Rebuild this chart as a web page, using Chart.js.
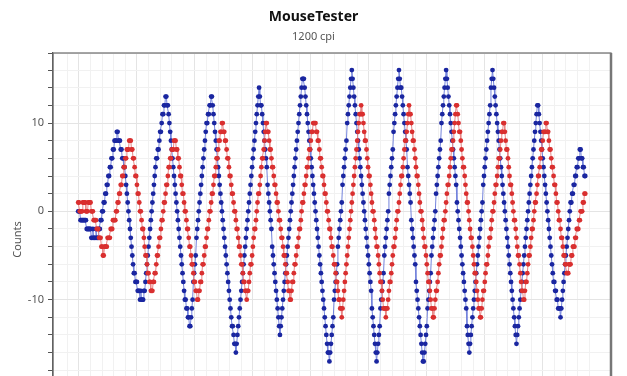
<!DOCTYPE html>
<html>
<head>
<meta charset="utf-8">
<script src="https://cdn.jsdelivr.net/npm/chart.js@4.4.0/dist/chart.umd.min.js"></script>
<style>
  html, body { margin: 0; padding: 0; background: #fff; overflow: hidden; }
  canvas { display: block; }
</style>
</head>
<body>
<canvas id="mouseChart" width="627" height="456"></canvas>
<script>
// MouseTester capture at 1200 cpi, one value per poll
const chartTitle = "MouseTester";
const chartSubtitle = "1200 cpi";
const yAxisTitle = "Counts";
const yTickLabels = [10, 0, -10];

// x counts (blue)
const xCounts = [
  0,0,0,-1,-1,-1,-1,-1,-1,-1,-1,-2,-2,-2,-2,-2,-2,-3,-3,-2,-3,-3,-3,-2,-3,-3,-3,-2,-2,-1,-1,0,0,1,1,2,2,3,3,4,4,5,5,6,6,7,7,8,8,8,
  9,9,8,8,8,7,7,6,6,5,5,4,3,2,1,0,-1,-2,-3,-4,-5,-6,-7,-7,-8,-8,-8,-9,-9,-9,-10,-9,-10,
  -10,-10,-9,-9,-8,-7,-6,-5,-4,-3,-2,-1,0,1,2,3,4,5,6,6,7,7,8,9,9,10,11,11,12,12,13,
  13,12,12,11,10,9,8,7,6,5,4,3,2,1,0,-1,-2,-3,-4,-5,-6,-7,-8,-9,-10,-10,-11,-11,-12,-12,
  -13,-13,-12,-11,-10,-8,-7,-6,-5,-3,-2,-1,0,1,2,3,4,5,6,7,8,9,10,10,11,11,12,12,
  13,13,12,11,10,9,8,7,6,5,4,3,2,1,0,-1,-2,-3,-4,-5,-6,-7,-8,-9,-10,-11,-12,-13,-13,-14,-15,-15,
  -16,-15,-14,-13,-12,-11,-10,-9,-8,-7,-6,-5,-4,-3,-2,-1,0,1,2,3,4,5,6,7,8,9,10,11,12,13,
  14,13,12,12,11,10,9,8,7,6,5,3,2,1,0,-1,-2,-4,-5,-6,-7,-8,-9,-10,-11,-12,-13,
  -14,-13,-12,-11,-10,-9,-8,-7,-6,-5,-4,-3,-2,-1,0,1,2,3,4,5,6,7,8,9,10,11,12,13,14,15,
  15,15,14,13,12,11,10,9,8,7,6,5,4,3,2,1,0,-1,-2,-3,-4,-5,-6,-7,-8,-9,-10,-11,-12,-13,-14,-15,-16,-16,
  -17,-16,-15,-14,-13,-12,-10,-9,-8,-7,-6,-4,-3,-2,-1,0,1,3,4,5,6,7,8,10,11,12,13,14,15,
  16,15,14,13,12,11,10,9,8,7,6,5,4,3,2,1,0,-1,-2,-3,-4,-5,-6,-7,-8,-9,-11,-12,-13,-14,-15,-16,
  -17,-16,-15,-14,-13,-11,-10,-9,-8,-7,-5,-4,-3,-2,-1,0,2,3,4,5,6,7,9,10,11,12,13,14,15,
  16,15,14,14,13,12,11,10,9,8,7,5,4,3,2,1,-1,-2,-3,-4,-5,-6,-8,-9,-10,-11,-12,-13,-14,-15,-16,
  -17,-17,-16,-15,-14,-13,-11,-10,-9,-8,-7,-5,-4,-3,-2,-1,0,2,3,4,5,6,7,8,10,11,12,13,14,15,
  16,15,14,13,12,11,10,9,8,7,6,5,4,3,1,0,-1,-2,-3,-4,-5,-6,-7,-8,-9,-10,-11,-13,-14,-15,
  -16,-15,-14,-13,-12,-11,-10,-9,-8,-7,-6,-5,-4,-3,-2,-1,0,1,3,4,5,6,7,8,9,10,11,12,14,15,
  16,15,14,13,12,11,10,9,8,7,6,5,4,3,2,1,0,-1,-2,-3,-4,-5,-6,-7,-8,-9,-10,-11,-12,-13,-14,
  -15,-14,-13,-12,-11,-10,-9,-8,-7,-6,-5,-4,-3,-2,-1,0,1,2,3,4,5,6,7,8,9,10,11,
  12,12,11,10,9,8,7,6,5,4,3,2,1,0,-1,-2,-3,-4,-5,-6,-7,-8,-8,-9,-9,-10,-10,-11,-11,-11,
  -12,-11,-10,-9,-8,-7,-6,-5,-4,-3,-2,-1,0,1,1,2,2,3,3,4,4,5,5,6,6,
  7,7,6,6,5,5,4,4
];

// y counts (red)
const yCounts = [
  1,1,0,0,0,0,1,1,1,1,0,0,0,1,1,1,1,0,0,0,-1,-1,-1,-1,-2,-2,-2,-3,-3,-3,-4,-4,
  -5,-5,-4,-4,-4,-4,-3,-3,-3,-3,-2,-2,-2,-1,-1,-1,-1,0,0,1,1,2,2,3,3,4,4,5,5,6,6,7,7,7,
  8,8,8,7,7,6,6,5,4,4,3,2,2,1,0,0,-1,-2,-2,-3,-4,-5,-5,-6,-7,-7,-8,-8,
  -9,-9,-9,-8,-8,-7,-7,-6,-5,-5,-4,-3,-3,-2,-1,-1,0,1,1,2,3,3,4,5,5,6,6,7,7,7,
  8,8,8,7,7,6,6,5,4,4,3,2,2,1,0,0,-1,-2,-2,-3,-4,-4,-5,-6,-6,-7,-8,-8,-9,-9,
  -10,-10,-9,-9,-8,-8,-7,-6,-6,-5,-4,-4,-3,-2,-2,-1,0,0,1,2,2,3,4,4,5,6,6,7,8,8,9,9,
  10,10,9,9,8,8,7,6,6,5,4,4,3,2,2,1,0,0,-1,-2,-2,-3,-4,-4,-5,-6,-6,-7,-8,-8,-9,-9,
  -10,-9,-9,-8,-7,-6,-6,-5,-4,-3,-2,-2,-1,0,1,2,2,3,4,5,6,6,7,8,9,
  10,10,9,9,8,7,7,6,5,5,4,3,3,2,1,1,0,-1,-1,-2,-3,-3,-4,-5,-5,-6,-7,-7,-8,-9,-9,
  -10,-10,-9,-8,-8,-7,-6,-6,-5,-4,-4,-3,-2,-2,-1,0,1,1,2,3,3,4,5,5,6,7,7,8,9,9,10,
  10,10,10,9,9,8,8,7,6,6,5,4,4,3,2,2,1,0,0,-1,-2,-2,-3,-4,-4,-5,-6,-6,-7,-8,-8,-9,-10,-10,-11,-11,
  -12,-11,-10,-9,-8,-7,-6,-5,-4,-3,-2,-1,0,1,2,3,4,5,6,7,8,9,10,11,11,
  12,11,11,10,9,8,8,7,6,5,4,4,3,2,1,0,0,-1,-2,-3,-4,-4,-5,-6,-7,-8,-8,-9,-10,-11,-11,-11,
  -12,-11,-11,-10,-9,-8,-8,-7,-6,-5,-4,-4,-3,-2,-1,0,0,1,2,3,4,4,5,6,7,8,8,9,10,11,
  12,11,11,10,9,8,8,7,6,5,4,4,3,2,1,0,0,-1,-2,-3,-4,-4,-5,-6,-7,-8,-8,-9,-10,-11,-11,
  -12,-12,-11,-10,-9,-9,-8,-7,-6,-5,-5,-4,-3,-2,-1,-1,0,1,2,3,3,4,5,6,7,7,8,9,10,11,
  12,12,11,10,9,9,8,7,6,5,5,4,3,2,1,1,0,-1,-2,-3,-3,-4,-5,-6,-7,-7,-8,-9,-10,-11,-11,
  -12,-12,-11,-10,-9,-9,-8,-7,-6,-6,-5,-4,-3,-3,-2,-1,0,0,1,2,3,3,4,5,6,6,7,8,9,9,
  10,10,9,8,7,7,6,5,4,3,3,2,1,0,-1,-1,-2,-3,-4,-5,-5,-6,-7,-8,-9,-9,
  -10,-10,-9,-8,-8,-7,-6,-5,-5,-4,-3,-2,-2,-1,0,1,1,2,3,4,4,5,6,7,7,8,9,9,9,
  10,10,9,9,8,7,7,6,5,5,4,3,3,2,1,1,0,-1,-1,-2,-3,-3,-4,-5,-5,-6,-6,
  -7,-7,-7,-6,-6,-6,-5,-5,-4,-4,-4,-3,-3,-2,-2,-2,-1,-1,0,0,0,1,1,2,2
];

// poll index (first sample sits just before the t = 0 grid line)
const toPoints = arr => arr.map((v, i) => ({ x: i - 1, y: v }));

const plotFrame = {
  id: 'plotFrame',
  afterDraw(chart) {
    const { ctx, chartArea: a } = chart;
    ctx.save();
    ctx.strokeStyle = '#6a6a6a';
    ctx.lineWidth = 1.2;
    ctx.strokeRect(a.left, a.top, a.right - a.left, a.bottom - a.top);
    ctx.strokeStyle = '#777';
    ctx.lineWidth = 2.5;
    ctx.beginPath();
    ctx.moveTo(a.right, a.top);
    ctx.lineTo(a.right, a.bottom);
    ctx.stroke();
    ctx.restore();
  }
};

Chart.defaults.font.family = '"Segoe UI", "Noto Sans", sans-serif';

const ctx = document.getElementById("mouseChart").getContext("2d");
const mouseChart = new Chart(ctx, {
  type: 'line',
  data: {
    datasets: [
      {
        label: 'y',
        data: toPoints(yCounts),
        borderColor: '#e88585',
        borderWidth: 1,
        pointRadius: 2.4,
        pointBorderWidth: 0,
        pointBackgroundColor: '#d92f2f',
        tension: 0
      },
      {
        label: 'x',
        data: toPoints(xCounts),
        borderColor: '#7383dc',
        borderWidth: 1,
        pointRadius: 2.4,
        pointBorderWidth: 0,
        pointBackgroundColor: '#1a26a0',
        tension: 0
      }
    ]
  },
  options: {
    responsive: false,
    devicePixelRatio: 1,
    animation: false,
    events: [],
    layout: { padding: 0 },
    plugins: {
      legend: { display: false },
      tooltip: { enabled: false },
      title: {
        display: true,
        text: chartTitle,
        color: '#111',
        font: { size: 14, weight: 'bold' },
        padding: { top: 8.6, bottom: 1.6 }
      },
      subtitle: {
        display: true,
        text: chartSubtitle,
        color: '#555',
        font: { size: 11 },
        padding: { top: 3.4, bottom: 9.4 }
      }
    },
    scales: {
      x: {
        type: 'linear',
        min: -33.6,
        max: 688.3,
        ticks: { display: false, stepSize: 15 },
        grid: {
          drawTicks: false,
          color: c => (c.tick && c.tick.value % 75 === 0) ? '#e4e4e4' : '#f1f1f1'
        },
        border: { display: false },
        afterFit: s => { s.height = 30; }
      },
      y: {
        min: -24.31,
        max: 17.93,
        ticks: {
          stepSize: 2,
          color: '#555',
          font: { size: 11 },
          padding: 4,
          callback: v => yTickLabels.includes(v) ? String(v) : ''
        },
        grid: {
          tickLength: 5,
          tickColor: '#555',
          color: c => (c.tick && c.tick.value % 10 === 0) ? '#e4e4e4' : '#f1f1f1'
        },
        border: { color: '#555', width: 1.2 },
        title: {
          display: true,
          text: yAxisTitle,
          color: '#555',
          font: { size: 11 },
          padding: { top: 11, bottom: 0 }
        },
        afterFit: s => { s.width = 53; }
      },
      // empty strip on the right so the plot ends where the reference does
      yRight: {
        position: 'right',
        display: true,
        min: -24.31,
        max: 17.93,
        ticks: { display: false },
        grid: { display: false },
        border: { display: false },
        afterFit: s => { s.width = 16; }
      }
    }
  },
  plugins: [plotFrame]
});
</script>
</body>
</html>
